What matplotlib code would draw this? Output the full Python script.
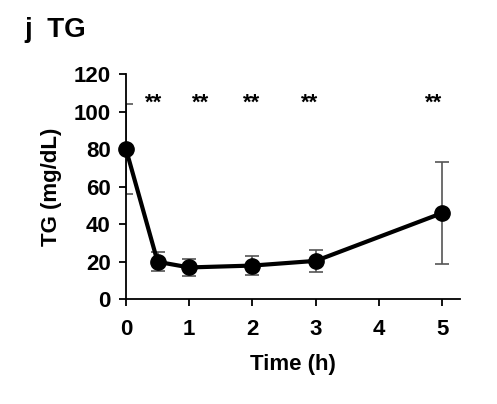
import numpy as np
import matplotlib.pyplot as plt

plt.rcParams['font.family'] = ['Liberation Sans', 'DejaVu Sans']
plt.rcParams['font.weight'] = 'bold'

# data
time_h = [0, 0.5, 1, 2, 3, 5]
tg_mean = [80, 20, 17, 18, 20.5, 46]
tg_err = [24, 5, 4.5, 5, 6, 27]
star_x = [0.43, 1.18, 1.99, 2.91, 4.87]
star_y = 104.5
xticks = [0, 1, 2, 3, 4, 5]
yticks = [0, 20, 40, 60, 80, 100, 120]

fig = plt.figure(figsize=(4.97, 4.04), dpi=100)
ax = fig.add_axes([0.2535, 0.259, 0.672, 0.5577])

# error bars are clipped at the axis, markers are not
ax.errorbar(time_h, tg_mean, yerr=tg_err, fmt='none', ecolor='#555555',
            elinewidth=1.2, capsize=5, capthick=1.2, zorder=2)
ax.plot(time_h, tg_mean, color='black', lw=3, marker='o', markersize=11,
        clip_on=False, zorder=3)

for sx in star_x:
    ax.text(sx, star_y, '**', ha='center', va='center', fontsize=16,
            fontweight='bold')

ax.set_xlim(0, 5.28)
ax.set_ylim(0, 120)
ax.set_xticks(xticks)
ax.set_yticks(yticks)
ax.tick_params(labelsize=16, width=1.3, length=5)
ax.tick_params(axis='x', pad=9)
ax.tick_params(axis='y', pad=6)
for lab in ax.get_xticklabels() + ax.get_yticklabels():
    lab.set_fontweight('bold')

ax.spines['top'].set_visible(False)
ax.spines['right'].set_visible(False)
ax.spines['left'].set_linewidth(1.3)
ax.spines['bottom'].set_linewidth(1.3)

ax.set_xlabel('Time (h)', fontsize=16, fontweight='bold', labelpad=10)
ax.set_ylabel('TG (mg/dL)', fontsize=16, fontweight='bold', labelpad=8)

fig.text(24 / 497, 1 - 30 / 404, 'j  TG', fontsize=20, fontweight='bold',
         ha='left', va='center')
# bit of a neighbouring panel's label cut off at the top edge
fig.text(330 / 497, 1 + 11 / 404, '(h)', fontsize=15, fontweight='bold',
         ha='center', va='center')

fig.savefig('out.png', dpi=100)
